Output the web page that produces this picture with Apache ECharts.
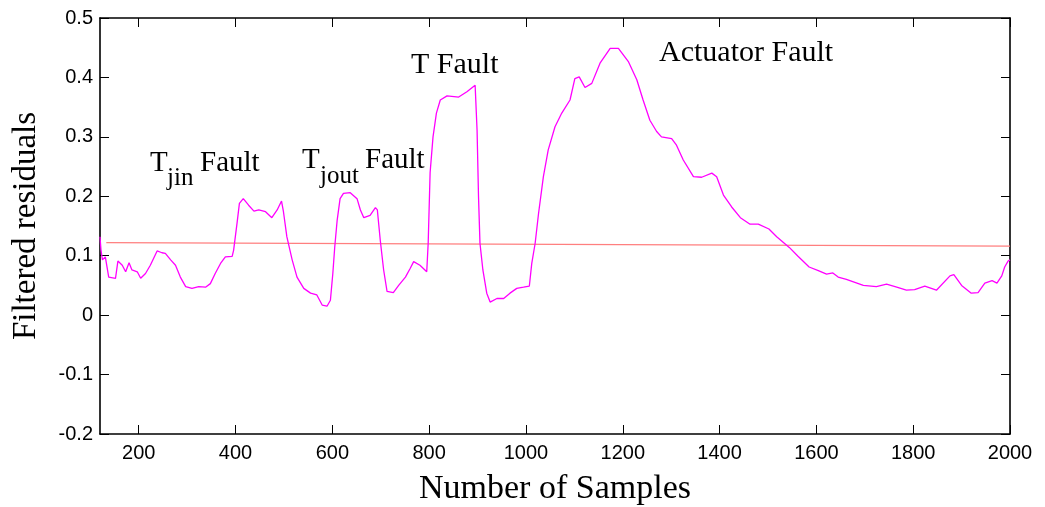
<!DOCTYPE html>
<html>
<head>
<meta charset="utf-8">
<script src="https://cdn.jsdelivr.net/npm/echarts@6/dist/echarts.min.js"></script>
<style>
  html, body { margin: 0; padding: 0; background: #ffffff; }
  #chart { width: 1045px; height: 507px; }
</style>
</head>
<body>
<div id="chart"></div>
<script>
// Sample index of each residual reading
const sampleIdx = [
  120, 122, 125, 131, 138, 152, 157, 166, 173, 180, 186, 197, 204, 214, 224, 238, 248, 255, 266, 276,
  286, 297, 310, 324, 338, 348, 358, 369, 379, 393, 396, 403, 408, 416, 427, 438, 448, 462, 475, 486,
  495, 499, 506, 517, 527, 541, 555, 568, 579, 589, 596, 601, 605, 610, 616, 623, 637, 651, 658, 665,
  678, 689, 693, 699, 706, 713, 726, 737, 751, 761, 768, 781, 795, 798, 802, 808, 815, 823, 837, 861,
  878, 895, 899, 902, 905, 911, 919, 926, 940, 954, 967, 981, 995, 1007, 1012, 1019, 1026, 1036, 1046, 1060,
  1074, 1091, 1101, 1110, 1122, 1136, 1153, 1174, 1191, 1212, 1229, 1242, 1256, 1270, 1280, 1301, 1311, 1325, 1346, 1363,
  1384, 1394, 1408, 1425, 1443, 1463, 1480, 1502, 1518, 1544, 1562, 1585, 1604, 1621, 1634, 1645, 1662, 1697, 1724, 1745,
  1766, 1786, 1803, 1824, 1848, 1876, 1884, 1900, 1920, 1934, 1948, 1963, 1973, 1983, 1989, 1996, 2000
];

// Filtered residual value at each sample
const residual = [
  0.132, 0.110, 0.093, 0.098, 0.064, 0.062, 0.091, 0.084, 0.073, 0.088, 0.076, 0.073, 0.062, 0.070, 0.084, 0.108, 0.105, 0.104, 0.093, 0.084,
  0.064, 0.048, 0.045, 0.048, 0.047, 0.053, 0.070, 0.087, 0.098, 0.099, 0.109, 0.154, 0.188, 0.196, 0.185, 0.175, 0.177, 0.174, 0.164, 0.177,
  0.192, 0.174, 0.132, 0.093, 0.064, 0.045, 0.037, 0.034, 0.017, 0.015, 0.025, 0.070, 0.115, 0.160, 0.196, 0.205, 0.206, 0.196, 0.177, 0.164,
  0.168, 0.181, 0.177, 0.126, 0.076, 0.040, 0.038, 0.050, 0.064, 0.079, 0.090, 0.084, 0.073, 0.121, 0.240, 0.300, 0.340, 0.362, 0.369, 0.367,
  0.376, 0.387, 0.311, 0.199, 0.121, 0.076, 0.037, 0.022, 0.028, 0.028, 0.037, 0.045, 0.047, 0.049, 0.087, 0.121, 0.171, 0.233, 0.278, 0.317,
  0.340, 0.362, 0.398, 0.401, 0.383, 0.390, 0.424, 0.449, 0.449, 0.426, 0.396, 0.362, 0.328, 0.309, 0.300, 0.297, 0.286, 0.261, 0.233, 0.232,
  0.239, 0.233, 0.202, 0.182, 0.164, 0.153, 0.153, 0.145, 0.132, 0.114, 0.099, 0.081, 0.075, 0.069, 0.071, 0.064, 0.060, 0.050, 0.048, 0.052,
  0.047, 0.042, 0.043, 0.049, 0.042, 0.066, 0.068, 0.050, 0.037, 0.038, 0.054, 0.058, 0.054, 0.066, 0.081, 0.091, 0.093
];

// Detection threshold (two end points of a nearly flat line)
const thresholdIdx = [133, 2000];
const thresholdVal = [0.122, 0.116];

// Axis tick labels
const xTicks = [200, 400, 600, 800, 1000, 1200, 1400, 1600, 1800, 2000];
const yTicks = [-0.2, -0.1, 0, 0.1, 0.2, 0.3, 0.4, 0.5];

const residualData = sampleIdx.map((x, i) => [x, residual[i]]);
const thresholdData = thresholdIdx.map((x, i) => [x, thresholdVal[i]]);

const serif = '"Liberation Serif", "Times New Roman", serif';
const sans = '"Liberation Sans", Arial, sans-serif';

const chart = echarts.init(document.getElementById('chart'), null, { renderer: 'canvas' });

const frameLine = { show: true, onZero: false, lineStyle: { color: '#000', width: 1.6 } };
const tickStyle = { show: true, inside: true, length: 9, lineStyle: { color: '#000', width: 1 } };

// Annotation text: baseline positions converted to the canvas "middle" anchor
function label(text, left, baseline, size) {
  return {
    type: 'text',
    x: left,
    y: baseline - 0.34 * size,
    style: {
      text: text,
      font: size + 'px ' + serif,
      fill: '#000',
      align: 'left',
      verticalAlign: 'middle'
    },
    z: 10
  };
}

chart.setOption({
  animation: false,
  backgroundColor: '#ffffff',
  grid: { left: 100, right: 35, top: 18, bottom: 73, containLabel: false, outerBoundsMode: 'none' },
  xAxis: [
    {
      type: 'value', min: 120, max: 2000, position: 'bottom',
      axisLine: frameLine,
      axisTick: Object.assign({}, tickStyle, { customValues: xTicks }),
      axisLabel: {
        customValues: xTicks, color: '#000', fontSize: 20, fontFamily: sans, margin: 9,
        formatter: (v) => String(v)
      },
      splitLine: { show: false },
      name: 'Number of Samples', nameLocation: 'middle', nameGap: 38,
      nameTextStyle: { color: '#000', fontSize: 34, fontFamily: serif }
    },
    {
      type: 'value', min: 120, max: 2000, position: 'top',
      axisLine: frameLine,
      axisTick: Object.assign({}, tickStyle, { customValues: xTicks }),
      axisLabel: { show: false },
      splitLine: { show: false }
    }
  ],
  yAxis: [
    {
      type: 'value', min: -0.2, max: 0.5, interval: 0.1, position: 'left',
      axisLine: frameLine,
      axisTick: Object.assign({}, tickStyle, { customValues: yTicks }),
      axisLabel: { customValues: yTicks, color: '#000', fontSize: 20, fontFamily: sans, margin: 7 },
      splitLine: { show: false },
      name: 'Filtered residuals', nameLocation: 'middle', nameGap: 57, nameRotate: 90,
      nameTextStyle: { color: '#000', fontSize: 33, fontFamily: serif }
    },
    {
      type: 'value', min: -0.2, max: 0.5, interval: 0.1, position: 'right',
      axisLine: frameLine,
      axisTick: Object.assign({}, tickStyle, { customValues: yTicks }),
      axisLabel: { show: false },
      splitLine: { show: false }
    }
  ],
  series: [
    {
      name: 'Threshold', type: 'line', data: thresholdData,
      xAxisIndex: 0, yAxisIndex: 0,
      showSymbol: false, silent: true,
      lineStyle: { color: '#ff7f7f', width: 1.2 }
    },
    {
      name: 'Residual', type: 'line', data: residualData,
      xAxisIndex: 0, yAxisIndex: 0,
      showSymbol: false, silent: true,
      lineStyle: { color: '#ff00ff', width: 1.3 }
    }
  ],
  graphic: [
    label('T', 150, 173, 29),
    label('jin', 167, 187, 25),
    label('Fault', 200, 173, 29),
    label('T', 302, 170, 29),
    label('jout', 320, 185, 25),
    label('Fault', 365, 170, 29),
    label('T Fault', 411, 75, 30),
    label('Actuator Fault', 659, 63, 30)
  ]
});
</script>
</body>
</html>
